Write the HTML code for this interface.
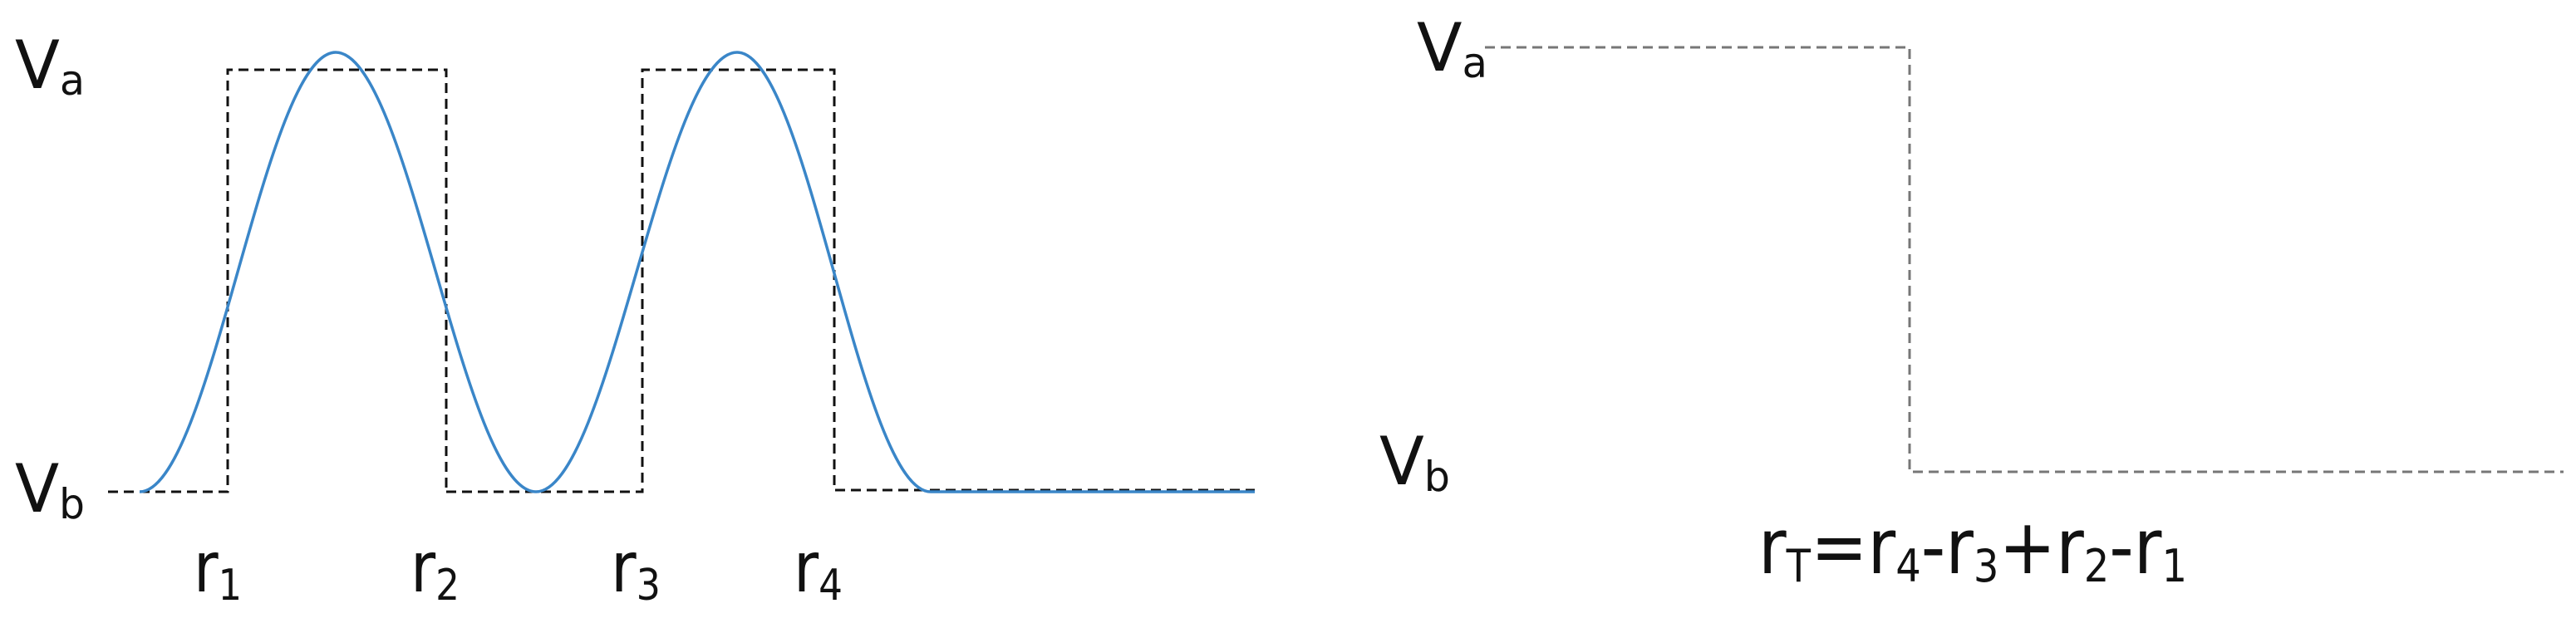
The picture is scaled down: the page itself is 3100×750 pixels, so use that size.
<!DOCTYPE html>
<html><head><meta charset="utf-8"><style>
html,body{margin:0;padding:0;background:#fff;}
svg{display:block}
text{font-family:"DejaVu Sans Condensed","DejaVu Sans","Liberation Sans",sans-serif;fill:#111;}
</style></head><body>
<svg width="3100" height="750" viewBox="0 0 3100 750" xmlns="http://www.w3.org/2000/svg">
<g fill="none" stroke="#111" stroke-width="3" stroke-dasharray="12 7">
<path d="M130 592 H274 V84 H537 V592"/>
<path d="M537 592 H773 V84 H1004 V590 H1510"/>
</g>
<path fill="none" stroke="#3a86c8" stroke-width="3.5"
d="M168 592 C254 592 318 63 404 63 C492 63 557 592 645 592 C733 592 799 63 887 63 C972 63 1035 592 1120 592 L1510 592"/>
<g fill="none" stroke="#777" stroke-width="3" stroke-dasharray="12 7">
<path d="M1787 57 H2298 V568 H3085"/>
</g>
<text x="18" y="106" font-size="80" textLength="84" lengthAdjust="spacingAndGlyphs">V<tspan font-size="50" dy="8">a</tspan></text>
<text x="18" y="616" font-size="80" textLength="84" lengthAdjust="spacingAndGlyphs">V<tspan font-size="50" dy="8">b</tspan></text>
<text x="233" y="712" font-size="84" textLength="58" lengthAdjust="spacingAndGlyphs">r<tspan font-size="52" dy="10">1</tspan></text>
<text x="494" y="712" font-size="84" textLength="59" lengthAdjust="spacingAndGlyphs">r<tspan font-size="52" dy="10">2</tspan></text>
<text x="735" y="712" font-size="84" textLength="60" lengthAdjust="spacingAndGlyphs">r<tspan font-size="52" dy="10">3</tspan></text>
<text x="955" y="712" font-size="84" textLength="59" lengthAdjust="spacingAndGlyphs">r<tspan font-size="52" dy="10">4</tspan></text>
<text x="1705" y="85" font-size="80" textLength="85" lengthAdjust="spacingAndGlyphs">V<tspan font-size="50" dy="8">a</tspan></text>
<text x="1660" y="583" font-size="80" textLength="85" lengthAdjust="spacingAndGlyphs">V<tspan font-size="50" dy="8">b</tspan></text>
<text x="2116" y="690" font-size="92" textLength="516" lengthAdjust="spacingAndGlyphs">r<tspan font-size="54" dy="10">T</tspan><tspan dy="-10">=r</tspan><tspan font-size="54" dy="10">4</tspan><tspan dy="-10">-r</tspan><tspan font-size="54" dy="10">3</tspan><tspan dy="-10">+r</tspan><tspan font-size="54" dy="10">2</tspan><tspan dy="-10">-r</tspan><tspan font-size="54" dy="10">1</tspan></text>
</svg>
</body></html>
